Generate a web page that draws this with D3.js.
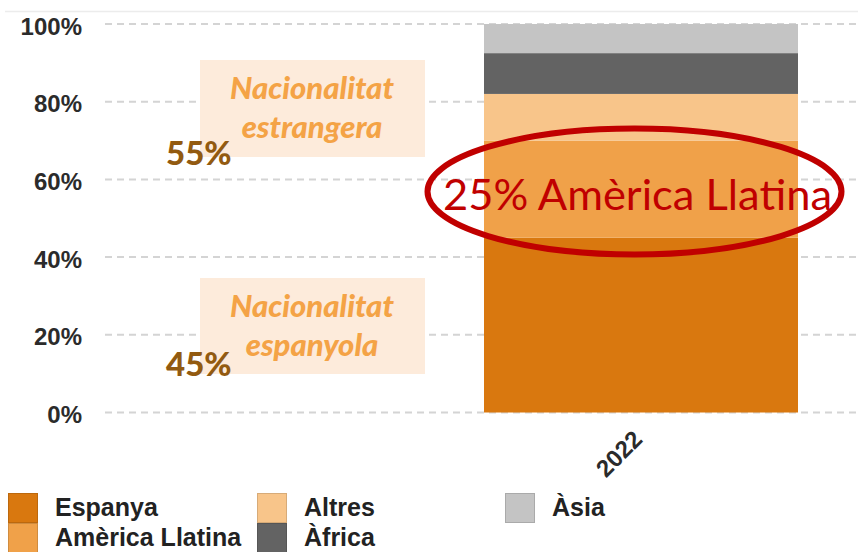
<!DOCTYPE html>
<html lang="ca">
<head>
  <meta charset="UTF-8">
  <title>Nacionalitat 2022</title>
  <style>
    body { margin: 0; background: #fff; }
    svg { display: block; }
    .axis text { font-family: "Liberation Sans", Arial, sans-serif; font-weight: bold; fill: #2b2b2b; }
    .legend text { font-family: "Liberation Sans", Arial, sans-serif; font-weight: bold; fill: #222; }
    .note { font-family: Lato, "Open Sans", sans-serif; }
  </style>
  <script src="https://cdn.jsdelivr.net/npm/d3@7"></script>
</head>
<body>
<div id="chart"></div>
<script>
// data
var categories = ["2022"];
var seriesNames = ["Espanya", "Amèrica Llatina", "Altres", "Àfrica", "Àsia"];
var values2022 = [45, 25, 12, 10.5, 7.5];
var yTicks = [0, 20, 40, 60, 80, 100];
var groupShares = [55, 45];

var colors = ["#d9780f", "#f0a149", "#f8c58a", "#636363", "#c4c4c4"];

var width = 858, height = 552;

var svg = d3.select("#chart").append("svg")
    .attr("width", width)
    .attr("height", height);

var y = d3.scaleLinear().domain([0, 100]).range([412.5, 24]);
var x = d3.scaleBand().domain(categories).range([484, 798]).padding(0);

var color = d3.scaleOrdinal().domain(seriesNames).range(colors);

// thin top rule
svg.append("line")
    .attr("x1", 5).attr("x2", width)
    .attr("y1", 11.5).attr("y2", 11.5)
    .attr("stroke", "#ececec").attr("stroke-width", 1.5);

// grid
svg.append("g")
  .selectAll("line")
  .data(yTicks)
  .enter().append("line")
    .attr("x1", 105).attr("x2", width)
    .attr("y1", function(d) { return y(d); })
    .attr("y2", function(d) { return y(d); })
    .attr("stroke", "#d4d4d4")
    .attr("stroke-width", 2)
    .attr("stroke-dasharray", "7,5");

// y axis labels
var yAxis = d3.axisLeft(y)
    .tickValues(yTicks)
    .tickSize(0)
    .tickPadding(0)
    .tickFormat(function(d) { return d + "%"; });

svg.append("g")
    .attr("class", "axis")
    .attr("transform", "translate(82,0)")
    .call(yAxis)
    .call(function(g) { g.select(".domain").remove(); })
    .selectAll("text")
      .attr("font-size", 24)
      .attr("dy", "0.42em");

// stacked bar
var row = { year: "2022" };
seriesNames.forEach(function(s, i) { row[s] = values2022[i]; });

var stack = d3.stack().keys(seriesNames);
var layers = stack([row]);

svg.append("g")
  .selectAll("g")
  .data(layers)
  .enter().append("g")
    .attr("fill", function(d) { return color(d.key); })
  .selectAll("rect")
  .data(function(d) { return d; })
  .enter().append("rect")
    .attr("x", function(d) { return x(d.data.year); })
    .attr("width", x.bandwidth())
    .attr("y", function(d) { return y(d[1]); })
    .attr("height", function(d) { return y(d[0]) - y(d[1]); });

// x axis label
var xAxis = d3.axisBottom(x).tickSize(0).tickPadding(0);
svg.append("g")
    .attr("class", "axis")
    .attr("transform", "translate(0,428)")
    .call(xAxis)
    .call(function(g) { g.select(".domain").remove(); })
    .selectAll("text")
      .attr("font-size", 24)
      .attr("text-anchor", "end")
      .attr("dy", "0.75em")
      .attr("transform", "translate(-10,0) rotate(-45)");

// annotation boxes (foreign / spanish)
var boxes = [
  { top: 60, bottom: 157, lines: ["Nacionalitat", "estrangera"], share: groupShares[0], shareY: 165 },
  { top: 278, bottom: 374, lines: ["Nacionalitat", "espanyola"], share: groupShares[1], shareY: 376 }
];

var notes = svg.append("g").attr("class", "note");
boxes.forEach(function(b) {
  notes.append("rect")
      .attr("x", 200).attr("y", b.top)
      .attr("width", 225).attr("height", b.bottom - b.top)
      .attr("fill", "#fdebdb");
  notes.append("text")
      .attr("x", 312).attr("y", b.top + 39)
      .attr("text-anchor", "middle")
      .attr("font-size", 31).attr("font-weight", 900).attr("font-style", "italic")
      .attr("fill", "#f4a346")
      .text(b.lines[0]);
  notes.append("text")
      .attr("x", 312).attr("y", b.top + 78)
      .attr("text-anchor", "middle")
      .attr("font-size", 31).attr("font-weight", 900).attr("font-style", "italic")
      .attr("fill", "#f4a346")
      .text(b.lines[1]);
  notes.append("text")
      .attr("x", 166).attr("y", b.shareY)
      .attr("font-size", 33).attr("font-weight", 900)
      .attr("fill", "#925a10")
      .text(b.share + "%");
});

// highlight of Amèrica Llatina
notes.append("ellipse")
    .attr("cx", 634.5).attr("cy", 191.5)
    .attr("rx", 207).attr("ry", 63)
    .attr("fill", "none")
    .attr("stroke", "#c00000")
    .attr("stroke-width", 6);

notes.append("text")
    .attr("x", 443).attr("y", 210)
    .attr("font-size", 42)
    .attr("fill", "#c00000")
    .attr("textLength", 389)
    .attr("lengthAdjust", "spacingAndGlyphs")
    .text(values2022[1] + "% " + seriesNames[1]);

// legend
var legendItems = [
  { name: "Espanya", x: 8, y: 493 },
  { name: "Amèrica Llatina", x: 8, y: 523 },
  { name: "Altres", x: 257, y: 493 },
  { name: "Àfrica", x: 257, y: 523 },
  { name: "Àsia", x: 505, y: 493 }
];

var legend = svg.append("g").attr("class", "legend")
  .selectAll("g")
  .data(legendItems)
  .enter().append("g")
    .attr("transform", function(d) { return "translate(" + d.x + "," + d.y + ")"; });

legend.append("rect")
    .attr("x", 0.5).attr("y", 0.5)
    .attr("width", 29).attr("height", 29)
    .attr("fill", function(d) { return color(d.name); })
    .attr("stroke", function(d) { return d3.color(color(d.name)).darker(0.4); })
    .attr("stroke-width", 1);

legend.append("text")
    .attr("x", 47)
    .attr("y", 23)
    .attr("font-size", 25)
    .text(function(d) { return d.name; });
</script>
</body>
</html>
